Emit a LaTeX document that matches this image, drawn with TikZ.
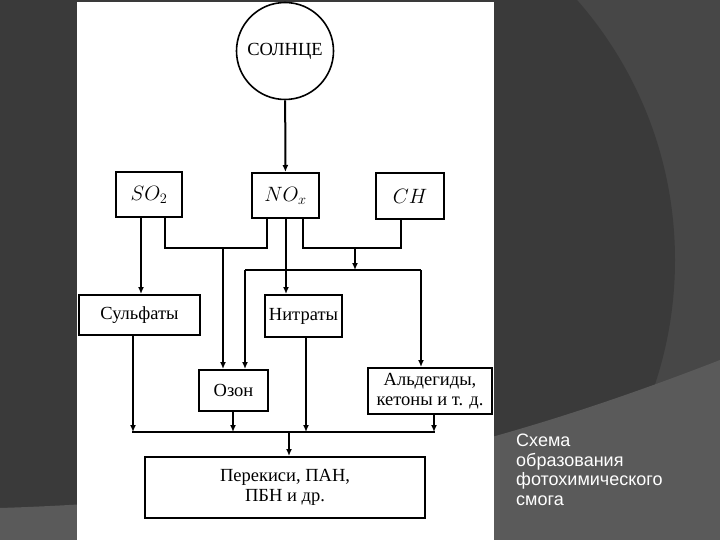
\documentclass[tikz,border=0pt]{standalone}
\usepackage{fontspec}
\setmainfont{Liberation Serif}
\newfontfamily\capfont{Liberation Sans}
\usetikzlibrary{arrows.meta}
\definecolor{bgdark}{HTML}{3A3A3A}
\definecolor{bgmid}{HTML}{474747}
\definecolor{bglight}{HTML}{5A5A5A}
\tikzset{
  boxnode/.style={draw, line width=2pt, inner sep=0pt, align=center, font=\fontsize{18.5}{20}\selectfont},
  mathbox/.style={boxnode, font=\fontsize{20.5}{22}\selectfont},
  wire/.style={line width=2pt},
  arr/.style={line width=2pt, -{Latex[length=7pt,width=6pt]}},
}
\begin{document}
\begin{tikzpicture}[x=1pt,y=-1pt]
\useasboundingbox (0,0) rectangle (720,540);
% background
\begin{scope}
\clip (0,0) rectangle (720,540);
\fill[bgmid] (0,0) rectangle (720,540);
\fill[bgdark] (281,260) circle[radius=394pt];
\fill[bglight] (0,508) .. controls (250,500) and (450,465) .. (720,360) -- (720,540) -- (0,540) -- cycle;
\end{scope}
\fill[white] (77,2) rectangle (494,540);
% nodes
\node[draw, circle, line width=1.6pt, minimum size=97pt, inner sep=0pt, font=\fontsize{18.5}{20}\selectfont] (sun) at (285,51) {СОЛНЦЕ};
\node[mathbox, minimum width=66pt, minimum height=45pt] (so2) at (149,194.5) {$SO_2$};
\node[mathbox, minimum width=67pt, minimum height=45pt] (nox) at (285.5,195.5) {$NO_x$};
\node[mathbox, minimum width=68pt, minimum height=46pt] (ch) at (410,196) {$CH$};
\node[boxnode, minimum width=121pt, minimum height=40pt] (sulf) at (139.5,315) {Сульфаты};
\node[boxnode, minimum width=77pt, minimum height=42pt] (nitr) at (303.5,316) {Нитраты};
\node[boxnode, minimum width=69pt, minimum height=41pt] (ozon) at (233.5,390.5) {Озон};
\node[boxnode, minimum width=124pt, minimum height=46pt] (ald) at (430,391) {Альдегиды,\\кетоны и т. д.};
\node[boxnode, minimum width=280pt, minimum height=61pt] (per) at (285,487.5) {Перекиси, ПАН,\\ПБН и др.};
% caption
\node[anchor=north west, align=left, text=white, inner sep=0pt, font=\capfont\fontsize{18}{19.5}\selectfont] (cap) at (516,434) {Схема\\образования\\фотохимического\\смога};
% junction coordinates
\coordinate (a1) at (165,248);
\coordinate (a2) at (267,248);
\coordinate (a3) at (223,248);
\coordinate (b1) at (303,248);
\coordinate (b2) at (401,248);
\coordinate (b3) at (355,248);
\coordinate (c0) at (355,270);
\coordinate (c1) at (245,270);
\coordinate (c2) at (421,270);
\coordinate (s1) at (141,0);
\coordinate (n1) at (286,0);
\coordinate (d1) at (133,432);
\coordinate (d2) at (233,432);
\coordinate (d3) at (306,432);
\coordinate (d4) at (434,432);
\coordinate (d0) at (289,432);
% connectors
\draw[arr] (sun) -- (nox);
\draw[arr] (so2.south -| s1) -- (sulf.north -| s1);
\draw[wire] (so2.south -| a1) -- (a1) -- (a2) -- (nox.south -| a2);
\draw[arr] (a3) -- (ozon.north -| a3);
\draw[arr] (nox.south -| n1) -- (nitr.north -| n1);
\draw[wire] (nox.south -| b1) -- (b1) -- (b2) -- (ch.south -| b2);
\draw[arr] (b3) -- (c0);
\draw[wire] (c1) -- (c2);
\draw[arr] (c1) -- (ozon.north -| c1);
\draw[arr] (c2) -- (ald.north -| c2);
\draw[arr] (sulf.south -| d1) -- (d1);
\draw[arr] (ozon.south -| d2) -- (d2);
\draw[arr] (nitr.south -| d3) -- (d3);
\draw[arr] (ald.south -| d4) -- (d4);
\draw[wire] ([xshift=-1pt]d1) -- ([xshift=1pt]d4);
\draw[arr] (d0) -- (per.north -| d0);
\end{tikzpicture}
\end{document}
